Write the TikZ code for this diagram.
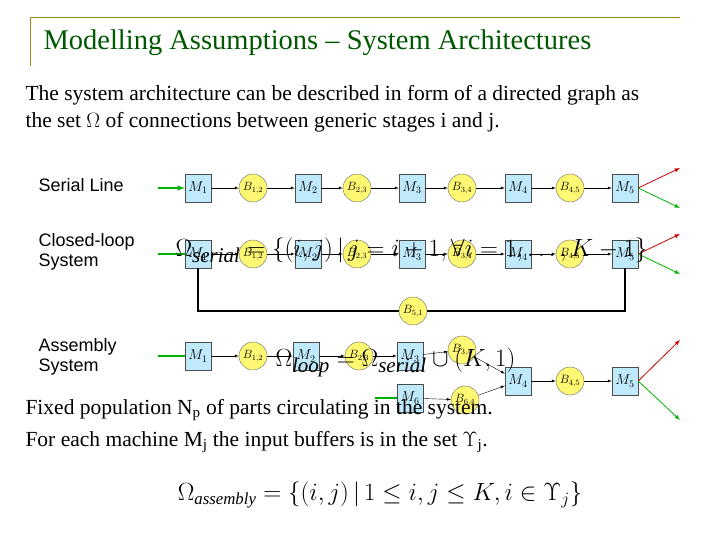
\documentclass[tikz,border=0pt]{standalone}
\usepackage{amsmath,amssymb}
\usepackage{fontspec}
\setmainfont{Liberation Serif}
\setsansfont{Liberation Sans}
\begin{document}
\begin{tikzpicture}[x=1pt,y=-1pt,
  mach/.style={draw=black!70,fill=cyan!25,minimum width=26pt,minimum height=28pt,inner sep=0pt,font=\fontsize{14}{15}\selectfont},
  buf/.style={circle,draw=black!60,fill=yellow!55,minimum size=28pt,inner sep=0pt,font=\fontsize{12}{13}\selectfont},
  lab/.style={font=\sffamily\fontsize{18}{20}\selectfont,anchor=west,align=left},
  flow/.style={-latex,thin},
  inflow/.style={green!70!black,line width=1.5pt},
  body/.style={font=\fontsize{21.5}{23}\selectfont,anchor=west}]
\useasboundingbox (0,0) rectangle (720,540);
\draw[olive!70!yellow!80!black,line width=1pt] (30,66) -- (30,18) -- (680,18);
\node[anchor=west,text=green!35!black,font=\fontsize{28.5}{30}\selectfont] (title) at (40,43) {Modelling Assumptions -- System Architectures};
\node[body] (t1) at (22,95) {The system architecture can be described in form of a directed graph as};
\node[body] (t2) at (22,122) {the set $\Omega$ of connections between generic stages i and j.};
% Serial
\node[lab] (ls) at (35,185) {Serial Line};
\foreach \n/\x in {1/198,2/308,3/412,4/518,5/625} \node[mach] (s\n) at (\x,188) {$M_{\n}$};
\foreach \n/\x/\l in {1/253/{1,2},2/357/{2,3},3/462/{3,4},4/570/{4,5}} \node[buf] (sb\n) at (\x,188) {$B_{\l}$};
\coordinate (sin) at (158,188);
\draw[inflow,-latex] (sin) -- (s1);
\foreach \a/\b in {s1/sb1,sb1/s2,s2/sb2,sb2/s3,s3/sb3,sb3/s4,s4/sb4,sb4/s5} \draw[flow] (\a) -- (\b);
\coordinate (sr) at (680,168); \coordinate (sg) at (680,208);
\draw[red!80!black,thick,-latex] (s5.east) -- (sr);
\draw[green!70!black,thick,-latex] (s5.east) -- (sg);
% Closed loop
\node[lab] (lc) at (35,252) {Closed-loop\\System};
\foreach \n/\x in {1/198,2/308,3/412,4/518,5/625} \node[mach] (c\n) at (\x,254) {$M_{\n}$};
\foreach \n/\x/\l in {1/253/{1,2},2/357/{2,3},3/462/{3,4},4/570/{4,5}} \node[buf] (cb\n) at (\x,254) {$B_{\l}$};
\coordinate (cin) at (158,254);
\draw[inflow] (cin) -- (c1);
\foreach \a/\b in {c1/cb1,cb1/c2,c2/cb2,cb2/c3,c3/cb3,cb3/c4,c4/cb4,cb4/c5} \draw[flow] (\a) -- (\b);
\coordinate (cr) at (680,234); \coordinate (cg) at (680,274);
\draw[red!80!black,thick,-latex] (c5.east) -- (cr);
\draw[green!70!black,thick,-latex] (c5.east) -- (cg);
\node[buf] (b51) at (413,311) {$B_{5,1}$};
\draw[line width=2pt] (c5.south) |- (b51.east);
\draw[line width=2pt] (b51.west) -| (c1.south);
% Assembly
\node[lab] (la) at (35,357) {Assembly\\System};
\node[mach] (a1) at (198,356) {$M_1$};
\node[buf] (ab1) at (253,356) {$B_{1,2}$};
\node[mach] (a2) at (306,356) {$M_2$};
\node[buf] (ab2) at (359,356) {$B_{2,3}$};
\node[mach] (a3) at (410,356) {$M_3$};
\node[buf] (ab3) at (462,350) {$B_{3,4}$};
\node[mach] (a4) at (518,381) {$M_4$};
\node[buf] (ab4) at (570,381) {$B_{4,5}$};
\node[mach] (a5) at (625,381) {$M_5$};
\node[mach] (a6) at (410,398) {$M_6$};
\node[buf] (ab6) at (465,400) {$B_{6,4}$};
\coordinate (ain) at (158,356); \coordinate (a6in) at (375,398);
\draw[inflow] (ain) -- (a1);
\draw[inflow] (a6in) -- (a6);
\foreach \a/\b in {a1/ab1,ab1/a2,a2/ab2,ab2/a3,a3/ab3,ab3/a4,a4/ab4,ab4/a5,a6/ab6,ab6/a4} \draw[flow] (\a) -- (\b);
\coordinate (ar) at (680,340); \coordinate (ag) at (680,420);
\draw[red!80!black,thick,-latex] (a5.east) -- (ar);
\draw[green!70!black,thick,-latex] (a5.east) -- (ag);
% Overlaid formulas
\node[font=\fontsize{30}{32}\selectfont,anchor=west] (fs) at (172,250) {$\Omega_{\mathit{serial}}=\left\{(i,j)\,\middle|\, j=i+1,\forall i=1,\dots,K-1\right\}$};
\node[font=\fontsize{30}{32}\selectfont,anchor=west] (fl) at (272,362) {$\Omega_{\mathit{loop}}=\Omega_{\mathit{serial}}\cup(K,1)$};
\node[body] (t3) at (22,410) {Fixed population N$_\mathrm{p}$ of parts circulating in the system.};
\node[body] (t4) at (22,442) {For each machine M$_\mathrm{j}$ the input buffers is in the set $\Upsilon_\mathrm{j}$.};
\node[font=\fontsize{24}{26}\selectfont] (fa) at (380,495) {$\Omega_{\mathit{assembly}}=\left\{(i,j)\,\middle|\,1\le i,j\le K,i\in\Upsilon_j\right\}$};
\end{tikzpicture}
\end{document}
